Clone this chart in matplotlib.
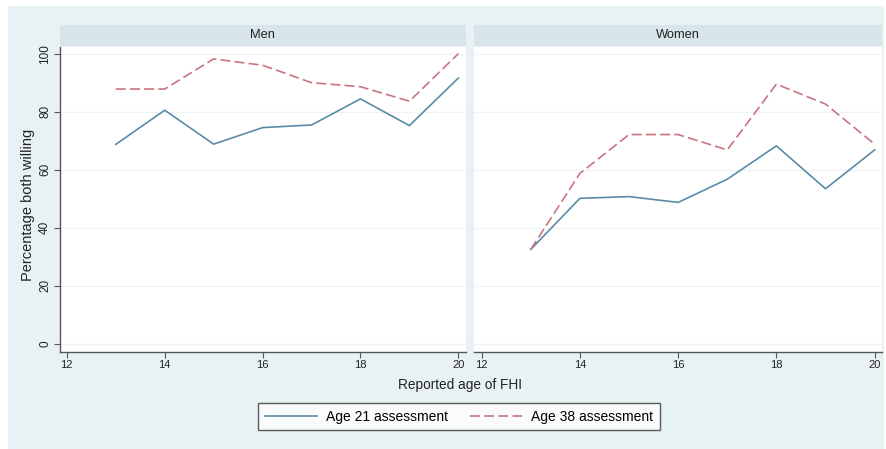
import matplotlib

matplotlib.use("Agg")
import matplotlib.pyplot as plt
from matplotlib.patches import Rectangle

plt.rcParams["font.family"] = ["Liberation Sans", "DejaVu Sans"]

# Data
ages = [13, 14, 15, 16, 17, 18, 19, 20]
panels = ["Men", "Women"]
men_age21 = [68.7, 80.5, 68.8, 74.5, 75.4, 84.4, 75.2, 91.6]
men_age38 = [87.8, 87.8, 98.2, 96.0, 90.0, 88.6, 83.6, 100.0]
women_age21 = [32.5, 50.1, 50.7, 48.7, 56.7, 68.2, 53.4, 66.8]
women_age38 = [32.5, 58.7, 72.1, 72.1, 66.8, 89.5, 82.6, 68.8]
series_labels = ["Age 21 assessment", "Age 38 assessment"]
x_ticks = [12, 14, 16, 18, 20]
y_ticks = [0, 20, 40, 60, 80, 100]

W, H = 886, 449
bg = "#e8f1f4"
strip_col = "#d8e6eb"
c21 = "#5a8ca6"
c38 = "#c9747e"
axis_col = "#555555"
txt = "#222222"

fig = plt.figure(figsize=(W / 100, H / 100), dpi=100)
fig.patches.append(Rectangle((8 / W, 0), (884 - 8) / W, (H - 6) / H,
                             transform=fig.transFigure, facecolor=bg,
                             edgecolor="none", zorder=-10))


def fx(px):
    return px / W


def fy(py):
    return 1 - py / H


boxes = [(59.5, 465.7), (474.3, 882.0)]
data = [(men_age21, men_age38), (women_age21, women_age38)]
handles = []
for i, (name, (l, r), (s21, s38)) in enumerate(zip(panels, boxes, data)):
    ax = fig.add_axes([fx(l), fy(352), fx(r - l), fy(47) - fy(352)])
    ax.set_facecolor("white")
    h1, = ax.plot(ages, s21, color=c21, lw=1.2, label=series_labels[0])
    h2, = ax.plot(ages, s38, color=c38, lw=1.2, dashes=(6, 2.5),
                  label=series_labels[1])
    handles = [h1, h2]
    ax.set_xlim(11.85, 20.15)
    ax.set_ylim(-2.9, 102.3)
    ax.set_xticks(x_ticks)
    ax.set_yticks(y_ticks)
    for yv in y_ticks:
        ax.axhline(yv, color="#eef3f5", lw=0.9, zorder=0)
    for s in ["top", "right"]:
        ax.spines[s].set_visible(False)
    ax.spines["bottom"].set_color(axis_col)
    ax.spines["bottom"].set_linewidth(1.0)
    ax.tick_params(axis="x", colors=axis_col, labelcolor=txt,
                   labelsize=8, length=4, width=0.8, pad=2)
    if i == 0:
        ax.spines["left"].set_color(axis_col)
        ax.spines["left"].set_linewidth(1.0)
        ax.tick_params(axis="y", colors=axis_col, labelcolor=txt,
                       labelsize=8.5, length=4, width=0.8, pad=2)
        for lab in ax.get_yticklabels():
            lab.set_rotation(90)
            lab.set_va("center")
    else:
        ax.spines["left"].set_visible(False)
        ax.tick_params(axis="y", left=False, labelleft=False)

    # panel strip
    fig.patches.append(Rectangle((fx(l), fy(46)), fx(r - l), fy(25) - fy(46),
                                 transform=fig.transFigure, zorder=-5,
                                 facecolor=strip_col, edgecolor="none"))
    fig.text(fx((l + r) / 2), fy(35.5), name, ha="center", va="center",
             fontsize=9.3, color=txt)

fig.text(fx(460), fy(385), "Reported age of FHI", ha="center", va="center",
         fontsize=9.8, color=txt)
fig.text(fx(28), fy(205), "Percentage both willing", ha="center",
         va="center", rotation=90, fontsize=10.5, color=txt)

leg = fig.legend(handles, series_labels, loc="center",
                 bbox_to_anchor=(fx(459), fy(416.5)), ncol=2,
                 fontsize=10, frameon=True, fancybox=False,
                 handlelength=3.7, columnspacing=1.65, handletextpad=0.65,
                 borderpad=0.5)
leg.get_frame().set_edgecolor("#333333")
leg.get_frame().set_linewidth(1.0)
leg.get_frame().set_facecolor("white")

fig.savefig("out.png", dpi=100)
